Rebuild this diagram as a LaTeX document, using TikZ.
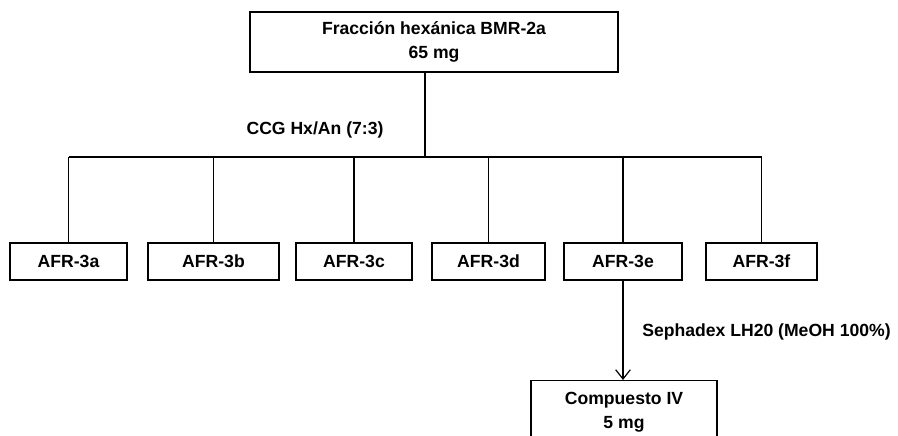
\documentclass[tikz,border=0pt]{standalone}
\usepackage{fontspec}
\setmainfont{Liberation Sans}
\usetikzlibrary{arrows.meta}

\begin{document}
\begin{tikzpicture}[
  x=0.75pt,
  y=-0.75pt,
  caja/.style={draw, line width=0.9pt, font=\bfseries\fontsize{13.2}{18}\selectfont, align=center, inner sep=0pt, minimum height=27.75pt},
  rama/.style={line width=0.9pt},
  flecha/.style={line width=0.9pt, -{Straight Barb[length=7pt, width=11pt, line width=0.9pt]}},
  rotulo/.style={font=\bfseries\fontsize{13.2}{18}\selectfont, inner sep=0pt}
  ]
    \useasboundingbox (0,0) rectangle (898,435);

    % Fraccion de partida
    \node[caja, minimum width=276pt, minimum height=45pt] (hexanica) at (434,42) {Fracci\'on hex\'anica BMR-2a\\65 mg};

    % columna y reparto en fracciones
    \coordinate (bus) at (425,157);
    \draw[rama] (hexanica.south -| bus) -- (bus);
    \node[rotulo] (ccg) at (315,130) {CCG Hx/An (7:3)};

% 6 fracciones AFR-3
\node[caja, minimum width=87.75pt] (afra) at (68.5,261.5) {AFR-3a};
\node[caja, minimum width=98.25pt] (afrb) at (213.5,261.5) {AFR-3b};
\node[caja, minimum width=87pt] (afrc) at (354,261.5) {AFR-3c};
\node[caja, minimum width=84.75pt] (afrd) at (488.5,261.5) {AFR-3d};
\node[caja, minimum width=88.5pt] (afre) at (623,261.5) {AFR-3e};
\node[caja, minimum width=83.25pt] (afrf) at (761.5,261.5) {AFR-3f};

\draw[rama] (afra.north |- bus) -- (afrf.north |- bus);
\foreach \f in {afra,afrb,afrc,afrd,afre,afrf}
  \draw[rama] (\f.north |- bus) -- (\f.north);

% Sephadex sobre AFR-3e
\node[caja, anchor=north, minimum width=139.5pt, minimum height=60pt] (compuesto) at (624,380) {};
\node[rotulo, align=center] (comptext) at (624,412) {Compuesto IV\\5 mg};
\draw[flecha] (afre.south) -- (afre.south |- compuesto.north);
\node[rotulo, anchor=west] (sephadex) at (642,332) {Sephadex LH20 (MeOH 100\%)};

\end{tikzpicture}
\end{document}
